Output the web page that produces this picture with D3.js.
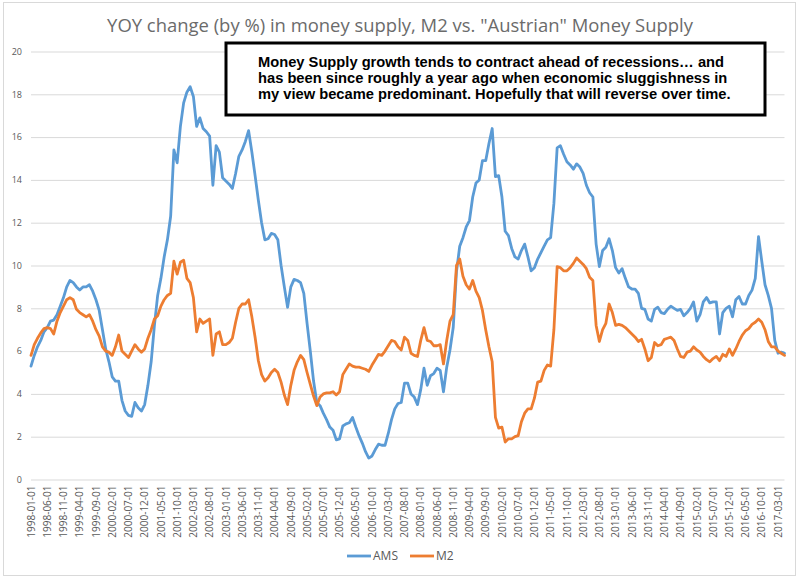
<!DOCTYPE html>
<html>
    <head>
        <meta charset="utf-8">
        <script src="https://d3js.org/d3.v7.min.js"></script>
        <style>
            body { margin: 0; background: #ffffff; }
        </style>

        <script>
            // DATA //////////////////////////////////////////////////////////////////////////////////////////

            // months 1998-01 .. 2017-05
            const firstMonth = "1998-01-01";
            const lastMonth  = "2017-05-01";

            // "Austrian" money supply, YOY %
            const ams = [
                5.3, 5.8, 6.2, 6.5, 6.9, 7.1, 7.4, 7.45, 7.7, 8.1, 8.5, 9.0,            // 1998
                9.3, 9.2, 9.0, 8.85, 9.0, 9.0, 9.1, 8.8, 8.4, 7.9, 7.0, 6.1,            // 1999
                5.5, 4.8, 4.6, 4.6, 3.7, 3.2, 3.0, 2.95, 3.6, 3.35, 3.2, 3.5,           // 2000
                4.4, 5.5, 7.2, 8.6, 9.4, 10.4, 11.2, 12.3, 15.4, 14.8, 16.5, 17.6,      // 2001
                18.1, 18.35, 17.9, 16.5, 16.9, 16.4, 16.25, 16.05, 13.75, 15.6, 15.3, 14.1, // 2002
                13.95, 13.8, 13.6, 14.3, 15.1, 15.4, 15.8, 16.3, 15.3, 14.2, 13.05, 12.0,   // 2003
                11.2, 11.25, 11.5, 11.45, 11.2, 10.0, 9.0, 8.05, 9.0, 9.35, 9.3, 9.2,   // 2004
                8.7, 7.3, 6.0, 4.6, 3.6, 3.45, 3.1, 2.8, 2.45, 2.3, 1.85, 1.9,          // 2005
                2.5, 2.6, 2.65, 2.9, 2.45, 2.05, 1.7, 1.3, 1.0, 1.1, 1.4, 1.65,         // 2006
                1.6, 1.6, 2.15, 2.8, 3.3, 3.55, 3.6, 4.5, 4.5, 4.0, 3.85, 3.5,          // 2007
                4.2, 5.2, 4.4, 4.85, 4.95, 5.2, 5.1, 4.1, 5.25, 6.05, 7.1, 9.7,         // 2008
                10.9, 11.3, 11.8, 12.1, 13.2, 13.85, 14.0, 14.9, 14.9, 15.7, 16.4, 14.15,   // 2009
                14.2, 13.2, 11.6, 11.4, 10.8, 10.4, 10.3, 10.7, 11.0, 10.4, 9.75, 9.9,  // 2010
                10.3, 10.6, 10.9, 11.2, 11.3, 12.9, 15.5, 15.6, 15.2, 14.85, 14.7, 14.5,    // 2011
                14.75, 14.6, 14.3, 13.75, 13.4, 13.2, 11.0, 9.95, 10.7, 10.85, 11.25, 10.7, // 2012
                9.9, 9.65, 9.85, 9.4, 9.0, 8.9, 8.9, 8.7, 8.0, 7.95, 7.5, 7.4,          // 2013
                7.95, 8.05, 7.8, 7.75, 7.95, 8.1, 8.0, 7.9, 7.95, 7.65, 7.8, 8.0,       // 2014
                8.3, 7.4, 7.7, 8.3, 8.5, 8.25, 8.3, 8.3, 6.8, 7.8, 8.0, 8.1,            // 2015
                7.6, 8.4, 8.55, 8.2, 8.2, 8.6, 8.85, 9.4, 11.35, 10.2, 9.1, 8.6,        // 2016
                8.0, 6.5, 5.9, 5.95, 5.9                                                // 2017
            ];

            // M2, YOY %
            const m2 = [
                5.8, 6.3, 6.6, 6.85, 7.05, 7.1, 7.05, 6.8, 7.4, 7.8, 8.1, 8.4,          // 1998
                8.5, 8.4, 7.95, 7.8, 7.7, 7.6, 7.7, 7.4, 7.0, 6.7, 6.2, 6.0,            // 1999
                5.95, 5.8, 6.2, 6.75, 6.0, 5.85, 5.7, 6.0, 6.3, 6.1, 5.95, 6.1,         // 2000
                6.6, 7.0, 7.5, 7.65, 8.1, 8.4, 8.6, 8.7, 10.2, 9.6, 10.15, 10.25,       // 2001
                9.4, 9.2, 8.5, 6.9, 7.5, 7.3, 7.4, 7.5, 5.8, 6.8, 6.9, 6.3,             // 2002
                6.3, 6.4, 6.6, 7.35, 8.0, 8.2, 8.2, 8.4, 7.6, 6.65, 5.55, 4.9,          // 2003
                4.6, 4.75, 5.0, 5.15, 5.0, 4.55, 3.95, 3.5, 4.4, 5.1, 5.5, 5.8,         // 2004
                5.6, 5.0, 4.45, 3.9, 3.45, 3.85, 4.0, 4.05, 4.05, 4.1, 3.95, 4.1,       // 2005
                4.9, 5.15, 5.4, 5.3, 5.25, 5.25, 5.2, 5.15, 5.05, 5.35, 5.6, 5.85,      // 2006
                5.8, 6.0, 6.25, 6.5, 6.45, 6.2, 6.05, 6.65, 6.5, 5.9, 5.8, 5.75,        // 2007
                6.5, 7.1, 6.5, 6.45, 6.25, 6.25, 6.3, 5.4, 6.5, 7.4, 7.7, 10.0,         // 2008
                10.3, 9.5, 9.1, 8.9, 9.3, 8.8, 8.5, 7.9, 7.0, 6.2, 5.5, 2.9,            // 2009
                2.4, 2.45, 1.75, 1.9, 1.9, 2.0, 2.05, 2.7, 3.1, 3.3, 3.3, 3.8,          // 2010
                4.55, 4.6, 5.1, 5.35, 5.3, 7.0, 9.95, 9.9, 9.75, 9.75, 9.9, 10.1,       // 2011
                10.35, 10.2, 10.05, 9.85, 9.45, 9.3, 7.2, 6.45, 7.0, 7.3, 8.2, 7.8,     // 2012
                7.2, 7.25, 7.2, 7.1, 6.95, 6.8, 6.65, 6.45, 6.55, 6.1, 5.55, 5.7,       // 2013
                6.4, 6.25, 6.3, 6.55, 6.6, 6.65, 6.5, 6.1, 5.75, 5.7, 5.95, 6.0,        // 2014
                6.2, 6.05, 5.95, 5.75, 5.6, 5.5, 5.65, 5.75, 5.55, 5.85, 5.75, 6.1,     // 2015
                5.8, 6.1, 6.45, 6.75, 6.95, 7.05, 7.25, 7.35, 7.5, 7.35, 7.0, 6.45,     // 2016
                6.2, 6.2, 6.0, 5.9, 5.8                                                 // 2017
            ];

            const yTicks = [0, 2, 4, 6, 8, 10, 12, 14, 16, 18, 20];
            const labelEvery = 5;     // every 5th month gets a label

            const seriesNames  = ["AMS", "M2"];
            const seriesColors = ["#5b9bd5", "#ed7d31"];

            const titleText = "YOY change (by %) in money supply, M2 vs. \"Austrian\" Money Supply";
            const noteLines = [
                "Money Supply growth tends to contract ahead of recessions\u2026 and",
                "has been since roughly a year ago when economic sluggishness in",
                "my view became predominant. Hopefully that will reverse over time."
            ];

            function makeSVG() {

                const width = 800;
                const height = 578;
                const margin = { left: 31, top: 51.5, right: 15.5, bottom: 98.5 };

                var parse = d3.utcParse("%Y-%m-%d");
                var format = d3.utcFormat("%Y-%m-%d");

                var months = d3.utcMonth.range(parse(firstMonth), d3.utcMonth.offset(parse(lastMonth), 1)).map(format);

                var svg = d3.select("body").append("svg")
                            .attr("width", width)
                            .attr("height", height);

                // chart frame
                svg.append("rect")
                   .attr("x", 3.5).attr("y", 2.5)
                   .attr("width", 792).attr("height", 573)
                   .attr("fill", "#ffffff")
                   .attr("stroke", "#d9d9d9");


                // X SCALE ////////////////////////////////////////////

                var xSc = d3.scalePoint().domain(months)
                                         .range([margin.left, width - margin.right]);


                // Y SCALE ////////////////////////////////////////////

                const ySc = d3.scaleLinear()
                              .domain([0, 20])
                              .range([height - margin.bottom, margin.top]);


                // Y AXIS + GRID //////////////////////////////////////

                var yg = svg.append("g")
                            .attr("transform", `translate(${margin.left},0)`)
                            .call(d3.axisLeft(ySc).tickValues(yTicks)
                                                  .tickSize(-(width - margin.right - margin.left))
                                                  .tickPadding(9));
                yg.select(".domain").remove();
                yg.selectAll(".tick line").attr("stroke", "#d9d9d9");
                yg.selectAll(".tick text")
                  .attr("fill", "#595959")
                  .style("font-family", "'Open Sans', sans-serif")
                  .style("font-size", "9px");


                // X AXIS /////////////////////////////////////////////

                var xg = svg.append("g")
                            .attr("transform", `translate(0,${height - margin.bottom})`)
                            .call(d3.axisBottom(xSc).tickValues(months.filter((d, i) => i % labelEvery == 0))
                                                    .tickSize(0));
                xg.select(".domain").remove();
                xg.selectAll(".tick text")
                  .attr("fill", "#595959")
                  .style("font-family", "'Open Sans', sans-serif")
                  .style("font-size", "10px")
                  .attr("text-anchor", "end")
                  .attr("transform", "rotate(-90)")
                  .attr("x", -6)
                  .attr("y", 0)
                  .attr("dy", "0.32em");


                // DRAW LINES /////////////////////////////////////////

                var lnMkr = d3.line()
                              .x((d, i) => xSc(months[i]))
                              .y(d => ySc(d));

                [ams, m2].forEach(function(s, k) {
                    svg.append("path")
                       .attr("d", lnMkr(s))
                       .attr("fill", "none")
                       .attr("stroke", seriesColors[k])
                       .attr("stroke-width", 2.8)
                       .attr("stroke-linejoin", "round")
                       .attr("stroke-linecap", "round");
                });


                // TITLE //////////////////////////////////////////////

                var title = svg.append("text")
                               .attr("x", width / 2)
                               .attr("y", 32)
                               .attr("text-anchor", "middle")
                               .attr("fill", "#6b6b6b")
                               .style("font-family", "'Open Sans', sans-serif")
                               .style("font-size", "17px")
                               .text(titleText);
                // fit title to the width it has in the picture
                var tw = title.node().getComputedTextLength();
                title.style("font-size", (17 * 586 / tw) + "px");


                // LEGEND /////////////////////////////////////////////

                var lgX = [347, 410];
                var lg = svg.append("g").attr("transform", "translate(0,556)");
                seriesNames.forEach(function(n, k) {
                    lg.append("line")
                      .attr("x1", lgX[k]).attr("x2", lgX[k] + 24)
                      .attr("stroke", seriesColors[k])
                      .attr("stroke-width", 2.8);
                    lg.append("text")
                      .attr("x", lgX[k] + 26)
                      .attr("dy", "0.35em")
                      .attr("fill", "#595959")
                      .style("font-family", "'Open Sans', sans-serif")
                      .style("font-size", "12px")
                      .text(n);
                });


                // NOTE BOX ///////////////////////////////////////////

                svg.append("rect")
                   .attr("x", 226).attr("y", 43)
                   .attr("width", 539).attr("height", 72)
                   .attr("fill", "#ffffff")
                   .attr("stroke", "#000000")
                   .attr("stroke-width", 3);

                var note = svg.append("text")
                              .attr("fill", "#000000")
                              .style("font-family", "'Liberation Sans', Arial, sans-serif")
                              .style("font-weight", "bold")
                              .style("font-size", "14.7px");
                noteLines.forEach(function(t, i) {
                    note.append("tspan")
                        .attr("x", 258)
                        .attr("y", 66.5 + i * 16.3)
                        .text(t);
                });
            }
        </script>
    </head>
    <body onload="makeSVG()">

    </body>
</html>
